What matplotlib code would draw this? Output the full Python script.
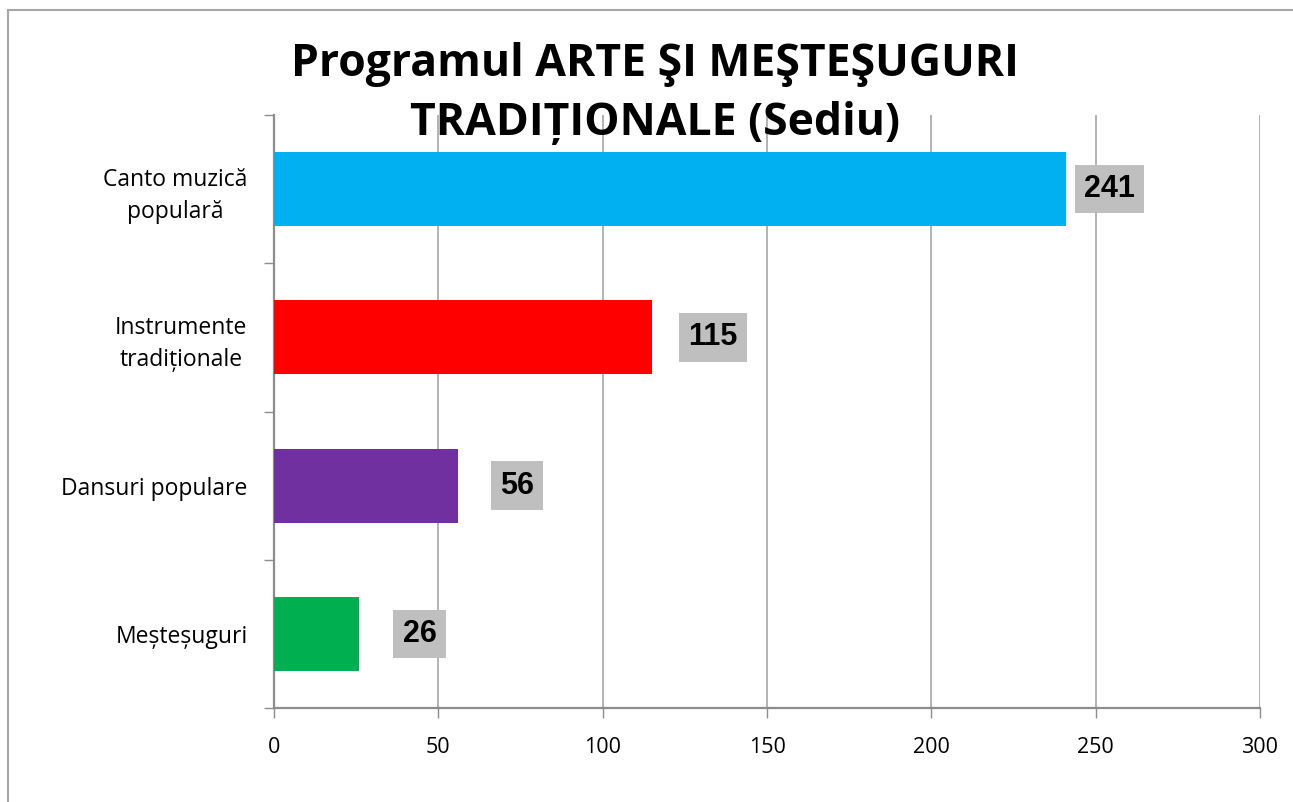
import matplotlib
matplotlib.use("Agg")
import matplotlib.pyplot as plt
from matplotlib.patches import Rectangle

# ---------------------------------------------------------------------------
# Data
# ---------------------------------------------------------------------------
categories = ["Canto muzică\npopulară", "Instrumente\ntradiționale",
              "Dansuri populare", "Meșteșuguri"]
values = [241, 115, 56, 26]
bar_colors = ["#00B0F0", "#FF0000", "#7030A0", "#00B050"]
label_offsets_pt = [13, 26, 30, 31]   # manual label nudges (points)
x_ticks = [0, 50, 100, 150, 200, 250, 300]
title = "Programul ARTE ŞI MEŞTEŞUGURI\nTRADIȚIONALE (Sediu)"

W, H = 1293, 802
fig = plt.figure(figsize=(W / 100, H / 100), dpi=100)
plt.rcParams["font.family"] = ["Open Sans", "DejaVu Sans"]

# outer chart frame (only top/left edges visible in the crop)
fig.add_artist(Rectangle((8 / W, -0.1), 1.2, (H - 10) / H + 0.1,
                         transform=fig.transFigure, fill=False,
                         edgecolor="#A6A6A6", linewidth=1.5))

ax = fig.add_axes([274 / W, 1 - 708 / H, (1260 - 274) / W, (708 - 115) / H])

ypos = list(range(len(categories)))
ax.barh(ypos, values, height=0.5, color=bar_colors, zorder=3)

ax.set_xlim(0, 300)
ax.set_ylim(len(categories) - 0.5, -0.5)
ax.set_xticks(x_ticks)
ax.set_xticklabels([str(t) for t in x_ticks], fontsize=15.5)
ax.set_yticks(ypos)
ax.set_yticklabels(categories, fontsize=16.5)
for lbl in ax.get_yticklabels():
    lbl.set_multialignment("center")
    lbl.set_linespacing(1.45)
ax.set_yticks([i - 0.5 for i in range(len(categories) + 1)], minor=True)

ax.tick_params(axis="y", which="major", length=0, pad=19)
ax.tick_params(axis="y", which="minor", length=7, width=1, color="#8C8C8C",
               direction="out")
ax.tick_params(axis="x", length=7, width=1, color="#8C8C8C",
               direction="out", pad=14)

ax.grid(axis="x", color="#A6A6A6", linewidth=1.2, zorder=0)
ax.set_axisbelow(True)
for side in ("top", "right"):
    ax.spines[side].set_visible(False)
for side in ("left", "bottom"):
    ax.spines[side].set_color("#8C8C8C")
    ax.spines[side].set_linewidth(1.6)

# data labels with grey boxes
for y, v, off in zip(ypos, values, label_offsets_pt):
    ax.annotate(str(v), xy=(v, y), xytext=(off, 0), textcoords="offset points",
                ha="left", va="center", fontsize=22, fontweight="bold",
                family="Liberation Sans", zorder=5,
                bbox=dict(boxstyle="square,pad=0.3", facecolor="#BFBFBF",
                          edgecolor="none"))

fig.text(655 / W, 1 - 94 / H, title, ha="center", va="center",
         fontsize=32, fontweight="bold", linespacing=1.42, zorder=10)

fig.savefig("out.png", dpi=100)
